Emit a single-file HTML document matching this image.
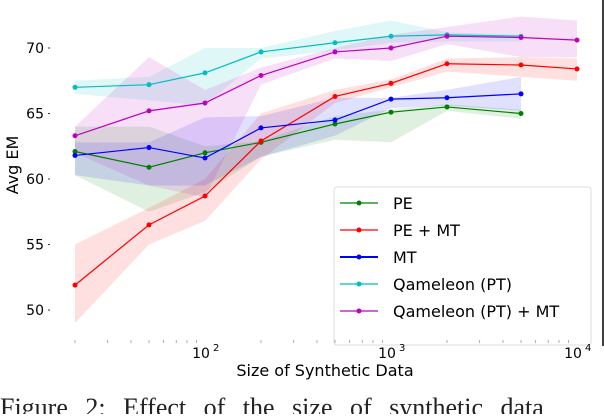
<!DOCTYPE html>
<html><head><meta charset="utf-8"><style>
body{margin:0;background:#fff;width:604px;height:414px;overflow:hidden}
svg{font-family:"DejaVu Sans","Liberation Sans",sans-serif}
</style></head><body>
<svg id="chart" width="604" height="414">
<line x1="603" y1="0" x2="603" y2="346" stroke="#000" stroke-width="1.5"/>
<g id="bands"></g><g id="lines"></g>
<g id="legend"></g>
<g id="axes"></g>
<text x="0" y="0" transform="translate(18,165) rotate(-90)" text-anchor="middle" font-size="16">Avg EM</text>
<text x="325" y="376" text-anchor="middle" font-size="16">Size of Synthetic Data</text>
<text x="0" y="416" font-family="Liberation Serif,serif" font-size="26" fill="#222" word-spacing="11">Figure 2: Effect of the size of synthetic data</text>
</svg>
<script>
const sizes=[20,50,100,200,500,1000,2000,5000,10000];
const seriesNames=["PE","PE + MT","MT","Qameleon (PT)","Qameleon (PT) + MT"];
const colors=["#008000","#ff0000","#0000ff","#00bfbf","#bf00bf"];
const pe=[62.1,60.9,62.0,62.8,64.2,65.1,65.5,65.0];
const peHi=[64.0,64.0,62.5,62.9,64.8,65.3,65.7,65.3];
const peLo=[60.3,57.5,59.0,61.7,63.0,62.8,65.2,64.6];
const pemt=[51.9,56.5,58.7,62.9,66.3,67.3,68.8,68.7,68.4];
const pemtHi=[55.0,57.8,60.0,65.0,66.8,67.6,69.2,69.3,69.2];
const pemtLo=[49.0,55.0,56.8,61.5,65.8,67.0,68.2,67.8,67.5];
const mt=[61.8,62.4,61.6,63.9,64.5,66.1,66.2,66.5];
const mtHi=[62.8,62.8,64.7,64.8,66.2,66.2,66.8,67.8];
const mtLo=[60.3,59.5,59.5,61.7,63.3,65.4,65.6,65.2];
const pt=[67.0,67.2,68.1,69.7,70.4,70.9,71.0,70.9];
const ptHi=[67.5,67.8,70.0,70.0,71.3,72.1,71.2,71.0];
const ptLo=[66.5,66.0,65.6,69.2,69.8,70.4,70.5,70.5];
const ptmt=[63.3,65.2,65.8,67.9,69.7,70.0,70.9,70.8,70.6];
const ptmtHi=[64.0,69.3,66.8,68.5,70.0,71.0,71.6,72.4,72.1];
const ptmtLo=[62.0,59.5,58.6,67.2,69.2,69.0,70.3,69.3,69.3];
const yTicks=[50,55,60,65,70];
const xTicks=[100,1000,10000];
const xTickExp=["2","3","4"];

const NS="http://www.w3.org/2000/svg";
const X=v=>205+(Math.log10(v)-2)*186;
const Y=v=>48+(70-v)*13.1;
function mk(t,a,p){const e=document.createElementNS(NS,t);for(const k in a)e.setAttribute(k,a[k]);p.appendChild(e);return e;}
const bands=document.getElementById('bands'),lines=document.getElementById('lines'),axes=document.getElementById('axes'),legend=document.getElementById('legend');
const data=[[pe,peHi,peLo],[pemt,pemtHi,pemtLo],[mt,mtHi,mtLo],[pt,ptHi,ptLo],[ptmt,ptmtHi,ptmtLo]];
data.forEach((d,i)=>{
  const [m,hi,lo]=d;
  let pts=hi.map((v,j)=>X(sizes[j])+','+Y(v)).concat(lo.map((v,j)=>X(sizes[j])+','+Y(v)).reverse());
  const b=mk('polygon',{points:pts.join(' '),fill:colors[i],'fill-opacity':0.12},bands);
  
  
  const l=mk('polyline',{points:m.map((v,j)=>X(sizes[j])+','+Y(v)).join(' '),fill:'none',stroke:colors[i],'stroke-width':1.2},lines);
  
  
  m.forEach((v,j)=>{const c=mk('circle',{cx:X(sizes[j]),cy:Y(v),r:2.5,fill:colors[i]},lines);
    
    });
});
yTicks.forEach(v=>{
  const t=mk('text',{x:44,y:Y(v)+5,'text-anchor':'end','font-size':14},axes);t.textContent=v;
  
  
  mk('line',{x1:48,x2:50,y1:Y(v),y2:Y(v),stroke:'#333'},axes);
});
for(let d=1;d<5;d++)for(let k=2;k<=9;k++){const v=k*Math.pow(10,d);if(v<20||v>10000)continue;
  mk('line',{x1:X(v),x2:X(v),y1:340,y2:343,stroke:'#777','stroke-width':0.6},axes);}
xTicks.forEach((v,i)=>{
  const t=mk('text',{x:X(v)-4,y:358,'text-anchor':'middle','font-size':14},axes);
  t.textContent='10';
  
  
  const s=mk('text',{x:X(v)+8,y:351,'font-size':10},axes);s.textContent=xTickExp[i];
});
mk('rect',{x:334,y:187,width:257,height:158,rx:3,fill:'#fff','fill-opacity':0.85,stroke:'#ddd'},legend);
seriesNames.forEach((n,i)=>{
  const y=203+i*27;
  mk('line',{x1:340,x2:378,y1:y,y2:y,stroke:colors[i],'stroke-width':i==2?2:1.2},legend);
  mk('circle',{cx:359,cy:y,r:2.5,fill:colors[i]},legend);
  const t=mk('text',{x:393,y:y+6,'font-size':16},legend);t.textContent=n;
  
  
});
</script>
</body></html>
